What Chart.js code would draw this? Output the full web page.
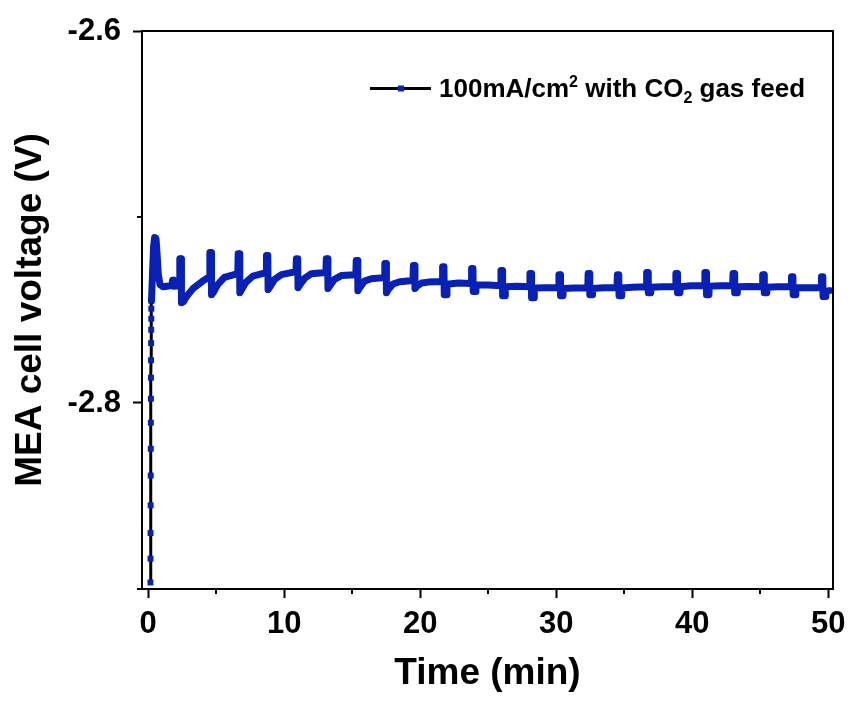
<!DOCTYPE html>
<html>
<head>
<meta charset="utf-8">
<script src="https://cdn.jsdelivr.net/npm/chart.js@4.4.1/dist/chart.umd.min.js"></script>
<style>
  html, body { margin: 0; padding: 0; background: #fff; }
  #wrap { width: 851px; height: 705px; }
</style>
</head>
<body>
<div id="wrap"><canvas id="chart"></canvas></div>
<script>
// Start-up ramp (black line, blue square markers)
const rampTime = [0.170, 0.175, 0.180, 0.185, 0.190, 0.195, 0.200, 0.205, 0.210, 0.215, 0.220, 0.225, 0.230, 0.235, 0.240];
const rampVolt = [-2.8965, -2.8837, -2.8699, -2.8550, -2.8390, -2.8246, -2.8106, -2.7977, -2.7864, -2.7770, -2.7678, -2.7606, -2.7547, -2.7493, -2.7450];

// Main trace, time in min
const traceTime = [
  0.25, 0.33, 0.40, 0.48, 0.58, 0.66, 0.75, 0.88, 1.10, 1.40, 1.75, 1.80, 1.88, 1.90, 2.30,
  2.33, 2.43, 2.45, 2.60, 2.85, 3.30, 4.00, 4.51,
  4.54, 4.64, 4.66, 4.80, 5.10, 5.60, 6.59,
  6.62, 6.72, 6.74, 6.88, 7.20, 7.70, 8.67,
  8.70, 8.80, 8.82, 8.96, 9.30, 9.80, 10.87,
  10.90, 11.00, 11.02, 11.16, 11.50, 12.00, 13.07,
  13.10, 13.20, 13.22, 13.36, 13.70, 14.20, 15.27,
  15.30, 15.40, 15.42, 15.56, 15.90, 16.40, 17.37,
  17.40, 17.50, 17.52, 17.66, 18.00, 18.50, 19.47,
  19.50, 19.60, 19.62, 19.76, 20.10, 20.60, 21.62,
  21.65, 21.75, 21.77, 21.95, 21.97, 22.80, 23.75,
  23.78, 23.88, 23.90, 24.08, 24.10, 25.00, 25.91,
  25.94, 26.04, 26.06, 26.24, 26.26, 27.10, 28.04,
  28.07, 28.17, 28.19, 28.37, 28.39, 29.20, 30.17,
  30.20, 30.30, 30.32, 30.50, 30.52, 31.30, 32.32,
  32.35, 32.45, 32.47, 32.65, 32.67, 33.50, 34.47,
  34.50, 34.60, 34.62, 34.80, 34.82, 35.60, 36.62,
  36.65, 36.75, 36.77, 36.95, 36.97, 37.80, 38.77,
  38.80, 38.90, 38.92, 39.10, 39.12, 39.90, 40.90,
  40.93, 41.03, 41.05, 41.23, 41.25, 42.10, 42.97,
  43.00, 43.10, 43.12, 43.30, 43.32, 44.20, 45.15,
  45.18, 45.28, 45.30, 45.48, 45.50, 46.30, 47.27,
  47.30, 47.40, 47.42, 47.60, 47.62, 48.50, 49.47,
  49.50, 49.60, 49.62, 49.80, 49.82, 50.10
];
const traceVolt = [
  -2.7450, -2.7290, -2.7160, -2.7110, -2.7115, -2.7200, -2.7310, -2.7365, -2.7375, -2.7372, -2.7368, -2.7340, -2.7340, -2.7372, -2.7369,
  -2.7224, -2.7224, -2.7461, -2.7455, -2.7425, -2.7385, -2.7345, -2.7321,
  -2.7191, -2.7191, -2.7418, -2.7405, -2.7365, -2.7325, -2.7304,
  -2.7197, -2.7197, -2.7407, -2.7390, -2.7350, -2.7318, -2.7299,
  -2.7207, -2.7207, -2.7391, -2.7375, -2.7335, -2.7310, -2.7294,
  -2.7224, -2.7224, -2.7380, -2.7365, -2.7330, -2.7305, -2.7299,
  -2.7224, -2.7224, -2.7385, -2.7370, -2.7335, -2.7315, -2.7310,
  -2.7234, -2.7234, -2.7396, -2.7380, -2.7345, -2.7332, -2.7326,
  -2.7250, -2.7250, -2.7407, -2.7390, -2.7360, -2.7348, -2.7342,
  -2.7261, -2.7261, -2.7385, -2.7372, -2.7355, -2.7350, -2.7347,
  -2.7267, -2.7267, -2.7418, -2.7418, -2.7362, -2.7355, -2.7358,
  -2.7277, -2.7277, -2.7400, -2.7400, -2.7365, -2.7366, -2.7369,
  -2.7288, -2.7288, -2.7423, -2.7423, -2.7375, -2.7372, -2.7375,
  -2.7304, -2.7304, -2.7434, -2.7434, -2.7382, -2.7380, -2.7380,
  -2.7310, -2.7310, -2.7423, -2.7423, -2.7385, -2.7382, -2.7380,
  -2.7304, -2.7304, -2.7418, -2.7418, -2.7384, -2.7380, -2.7380,
  -2.7310, -2.7310, -2.7423, -2.7423, -2.7382, -2.7378, -2.7375,
  -2.7299, -2.7299, -2.7407, -2.7407, -2.7378, -2.7375, -2.7375,
  -2.7304, -2.7304, -2.7407, -2.7407, -2.7375, -2.7370, -2.7369,
  -2.7299, -2.7299, -2.7418, -2.7418, -2.7372, -2.7369, -2.7369,
  -2.7304, -2.7304, -2.7407, -2.7407, -2.7375, -2.7373, -2.7375,
  -2.7310, -2.7310, -2.7407, -2.7407, -2.7378, -2.7375, -2.7375,
  -2.7321, -2.7321, -2.7418, -2.7418, -2.7380, -2.7380, -2.7380,
  -2.7321, -2.7321, -2.7428, -2.7428, -2.7400, -2.7396
];

// Axes
const xMajorTicks = [0, 10, 20, 30, 40, 50];
const xMinorTicks = [5, 15, 25, 35, 45];
const yMajorTicks = [-2.8, -2.6];
const yMinorTicks = [-2.9, -2.7];

const BLUE = '#0820b4';
const FONT = "'Liberation Sans', Arial, sans-serif";

const toPoints = (xs, ys) => xs.map((x, i) => ({ x: x, y: ys[i] }));

// frame, minor ticks and legend
const decorPlugin = {
  id: 'decor',
  afterDraw(chart) {
    const ctx = chart.ctx;
    const a = chart.chartArea;
    const xs = chart.scales.x, ys = chart.scales.y;
    ctx.save();
    ctx.strokeStyle = '#000';
    ctx.lineWidth = 2;
    ctx.strokeRect(a.left, a.top, a.right - a.left, a.bottom - a.top);

    // minor ticks
    ctx.beginPath();
    xMinorTicks.forEach(v => {
      const px = Math.round(xs.getPixelForValue(v));
      ctx.moveTo(px, a.bottom); ctx.lineTo(px, a.bottom + 5);
    });
    yMinorTicks.forEach(v => {
      const py = Math.round(ys.getPixelForValue(v));
      ctx.moveTo(a.left, py); ctx.lineTo(a.left - 5, py);
    });
    ctx.stroke();

    // legend
    const ly = 88.5;
    ctx.lineWidth = 3;
    ctx.beginPath();
    ctx.moveTo(370, ly); ctx.lineTo(431, ly);
    ctx.stroke();
    ctx.fillStyle = BLUE;
    ctx.fillRect(398, ly - 3, 6, 6);

    ctx.fillStyle = '#000';
    ctx.textBaseline = 'alphabetic';
    const big = 'bold 26px ' + FONT;
    const small = 'bold 16px ' + FONT;
    const base = 97;
    let x = 439;
    const parts = [
      ['100mA/cm', big, 0],
      ['2', small, -10],
      [' with CO', big, 0],
      ['2', small, 6],
      [' gas feed', big, 0]
    ];
    parts.forEach(p => {
      ctx.font = p[1];
      ctx.fillText(p[0], x, base + p[2]);
      x += ctx.measureText(p[0]).width;
    });
    ctx.restore();
  }
};

new Chart(document.getElementById('chart'), {
  type: 'line',
  data: {
    datasets: [
      {
        label: 'ramp',
        data: toPoints(rampTime, rampVolt),
        borderColor: '#000',
        borderWidth: 3,
        pointStyle: 'rect',
        pointRadius: 4.2,
        pointBackgroundColor: BLUE,
        pointBorderWidth: 0,
        tension: 0
      },
      {
        label: 'trace',
        data: toPoints(traceTime, traceVolt),
        borderColor: BLUE,
        borderWidth: 7,
        borderJoinStyle: 'round',
        borderCapStyle: 'round',
        pointRadius: 0,
        tension: 0
      }
    ]
  },
  options: {
    responsive: true,
    maintainAspectRatio: false,
    animation: false,
    devicePixelRatio: 1,
    layout: { padding: { top: 31, right: 18, left: 0, bottom: 0 } },
    plugins: {
      legend: { display: false },
      tooltip: { enabled: false }
    },
    scales: {
      x: {
        type: 'linear',
        min: -0.45,
        max: 50.35,
        afterBuildTicks: s => { s.ticks = xMajorTicks.map(v => ({ value: v })); },
        afterFit: s => { s.height = 116; s.paddingLeft = 0; s.paddingRight = 0; },
        ticks: {
          color: '#000',
          font: { family: FONT, size: 31, weight: 'bold' },
          padding: 8,
          maxRotation: 0,
          autoSkip: false,
          callback: v => String(v)
        },
        grid: { drawOnChartArea: false, drawTicks: true, tickLength: 9, tickWidth: 2, tickColor: '#000' },
        border: { color: '#000', width: 2 },
        title: {
          display: true,
          text: 'Time (min)',
          color: '#000',
          font: { family: FONT, size: 37, weight: 'bold' },
          padding: { top: 0, bottom: 9 }
        }
      },
      y: {
        type: 'linear',
        min: -2.9,
        max: -2.6,
        afterBuildTicks: s => { s.ticks = yMajorTicks.map(v => ({ value: v })); },
        afterFit: s => { s.width = 142; s.paddingTop = 0; s.paddingBottom = 0; },
        ticks: {
          color: '#000',
          font: { family: FONT, size: 31, weight: 'bold' },
          padding: 12,
          autoSkip: false,
          callback: v => v.toFixed(1)
        },
        grid: { drawOnChartArea: false, drawTicks: true, tickLength: 9, tickWidth: 2, tickColor: '#000' },
        border: { color: '#000', width: 2 },
        title: {
          display: true,
          text: 'MEA cell voltage (V)',
          color: '#000',
          font: { family: FONT, size: 37, weight: 'bold' },
          padding: { top: 9, bottom: 0 }
        }
      }
    }
  },
  plugins: [decorPlugin]
});
</script>
</body>
</html>
